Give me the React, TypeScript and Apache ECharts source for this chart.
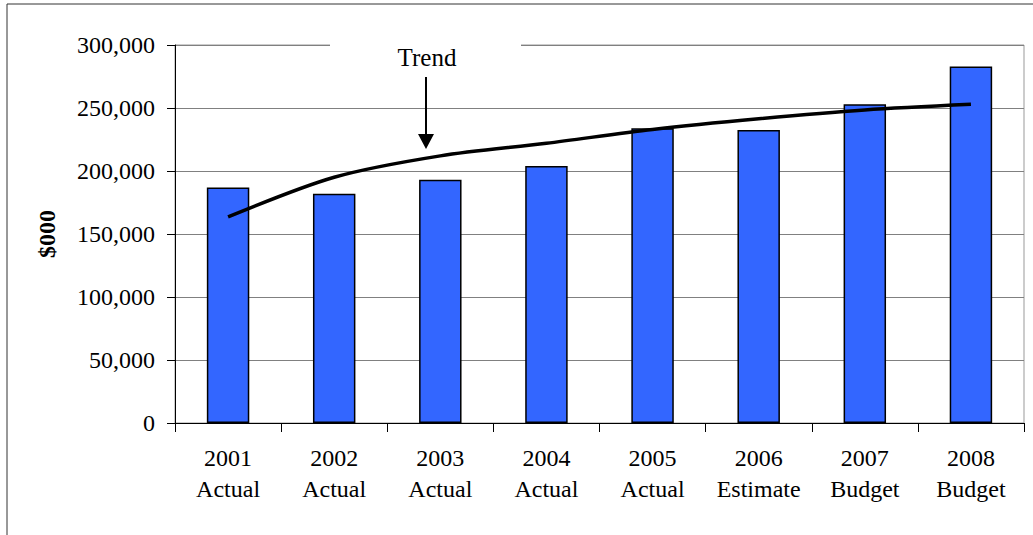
import React, { useEffect, useRef } from "react";
import * as echarts from "echarts";

const categories = [
  "2001\nActual",
  "2002\nActual",
  "2003\nActual",
  "2004\nActual",
  "2005\nActual",
  "2006\nEstimate",
  "2007\nBudget",
  "2008\nBudget",
];
const barValues = [187000, 182000, 193000, 204000, 234000, 232500, 253000, 283000];
const trendValues = [163500, 195000, 212000, 222000, 233000, 241500, 248500, 253000];
const yTicks = { min: 0, max: 300000, interval: 50000 };

const FONT = "'Liberation Serif', 'Times New Roman', serif";

export default function App() {
  const ref = useRef<HTMLDivElement>(null);
  useEffect(() => {
    if (!ref.current) return;
    const chart = echarts.init(ref.current, null, { renderer: "svg" });
    chart.setOption({
      animation: false,
      backgroundColor: "#ffffff",
      grid: {
        left: 175,
        top: 45,
        right: 9,
        bottom: 112,
        show: true,
        borderColor: "#999999",
        borderWidth: 1,
        backgroundColor: "transparent",
      },
      xAxis: {
        type: "category",
        data: categories,
        axisLine: { show: true, lineStyle: { color: "#000", width: 1 } },
        axisTick: { show: true, length: 9, lineStyle: { color: "#000" }, alignWithLabel: false },
        axisLabel: {
          color: "#000",
          fontFamily: FONT,
          fontSize: 24,
          lineHeight: 31,
          margin: 19,
          interval: 0,
        },
        splitLine: { show: false },
      },
      yAxis: {
        type: "value",
        min: yTicks.min,
        max: yTicks.max,
        interval: yTicks.interval,
        name: "$000",
        nameLocation: "middle",
        nameRotate: 90,
        nameGap: 116,
        nameTextStyle: { color: "#000", fontFamily: FONT, fontSize: 24, fontWeight: "bold" },
        axisLine: { show: true, lineStyle: { color: "#000", width: 1 } },
        axisTick: { show: true, length: 8, lineStyle: { color: "#000" } },
        axisLabel: {
          color: "#000",
          fontFamily: FONT,
          fontSize: 24,
          margin: 20,
          formatter: (v: number) => v.toLocaleString("en-US"),
        },
        splitLine: { show: true, lineStyle: { color: "#808080", width: 1 } },
      },
      series: [
        {
          type: "bar",
          data: barValues,
          barWidth: "40%",
          itemStyle: { color: "#3366FF", borderColor: "#000", borderWidth: 1.5 },
          z: 2,
        },
        {
          type: "line",
          data: trendValues,
          smooth: 0.3,
          symbol: "none",
          lineStyle: { color: "#000", width: 3.5 },
          z: 3,
        },
      ],
      graphic: [
        {
          type: "rect",
          shape: { x: 7, y: 4, width: 1200, height: 800 },
          style: { fill: "none", stroke: "#333", lineWidth: 1 },
          z: 10,
        },
        {
          type: "rect",
          shape: { x: 330, y: 38, width: 191, height: 14 },
          style: { fill: "#fff" },
          z: 10,
        },
        {
          type: "text",
          x: 427,
          y: 57,
          style: {
            text: "Trend",
            fill: "#000",
            font: `25px ${FONT}`,
            textAlign: "center",
            textVerticalAlign: "middle",
          },
          z: 11,
        },
        {
          type: "line",
          shape: { x1: 426, y1: 77, x2: 426, y2: 137 },
          style: { stroke: "#000", lineWidth: 2 },
          z: 11,
        },
        {
          type: "polygon",
          shape: { points: [[418, 134], [434, 134], [426, 149]] },
          style: { fill: "#000" },
          z: 11,
        },
      ],
    });
    return () => chart.dispose();
  }, []);
  return (
    <div
      ref={ref}
      style={{ position: "absolute", left: 0, top: 0, width: 1033, height: 535 }}
    />
  );
}
